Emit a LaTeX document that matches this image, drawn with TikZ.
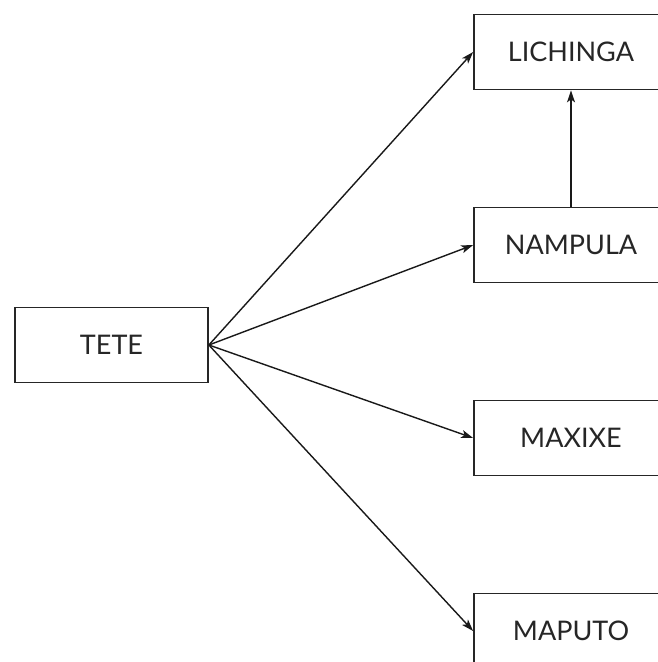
\documentclass[tikz,border=0pt]{standalone}
\usepackage{fontspec}
\setmainfont{Lato}
\usetikzlibrary{arrows.meta}
\begin{document}
\begin{tikzpicture}[x=1pt,y=-1pt,
  city/.style={draw=black!85,line width=1.7pt,minimum width=194pt,minimum height=75pt,inner sep=0pt,font=\fontsize{27}{30}\selectfont,text=black!85},
  conn/.style={line width=1.4pt,draw=black!90,-{Stealth[length=12pt,width=8pt,inset=3pt]}}]
\useasboundingbox (0,0) rectangle (658,662);
\node[city,minimum width=193pt] (tete) at (111.5,345) {TETE};
\node[city] (lich) at (571,52) {LICHINGA};
\node[city] (namp) at (571,245) {NAMPULA};
\node[city] (maxi) at (571,438) {MAXIXE};
\node[city] (mapu) at (571,631) {MAPUTO};
\draw[conn] (tete.east) -- (lich.west);
\draw[conn] (tete.east) -- (namp.west);
\draw[conn] (tete.east) -- (maxi.west);
\draw[conn] (tete.east) -- (mapu.west);
\draw[conn] (namp.north) -- (lich.south);
\end{tikzpicture}
\end{document}
